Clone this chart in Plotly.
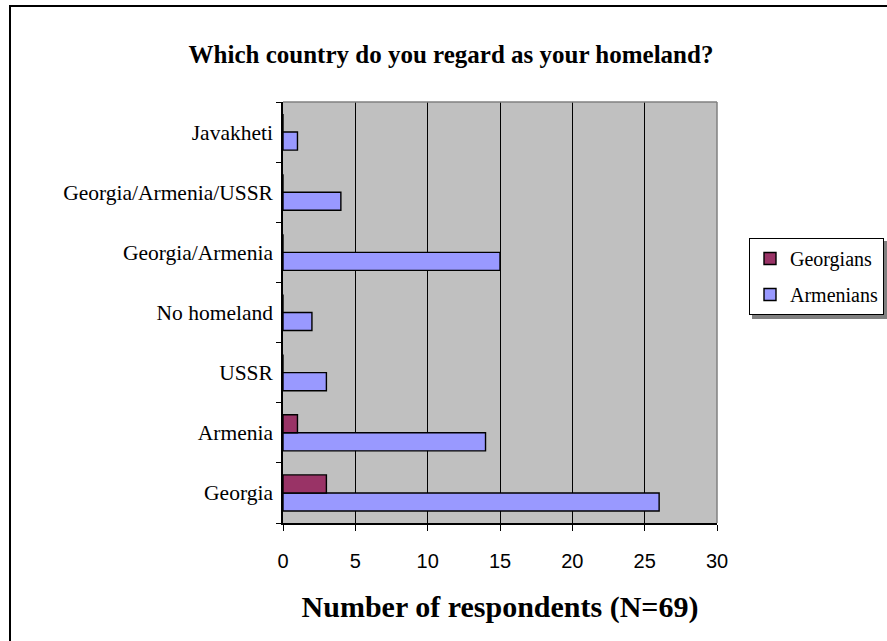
import plotly.graph_objects as go

# Survey answers: which country respondents regard as their homeland
categories = ["Georgia", "Armenia", "USSR", "No homeland",
              "Georgia/Armenia", "Georgia/Armenia/USSR", "Javakheti"]
georgians = [3, 1, 0, 0, 0, 0, 0]
armenians = [26, 14, 3, 2, 15, 4, 1]
x_ticks = [0, 5, 10, 15, 20, 25, 30]

W, H = 887, 641
L, R, T, B = 283, 170, 102, 118
PW, PH = W - L - R, H - T - B


def px_x(px):
    return (px - L) / PW


def px_y(py):
    return (H - B - py) / PH


serif = "Liberation Serif, Times New Roman, serif"
sans = "Liberation Sans, Arial, sans-serif"

fig = go.Figure()
# Armenians first so that the Georgians bar sits above it in each group
fig.add_trace(go.Bar(
    y=categories, x=armenians, name="Armenians", orientation="h",
    marker=dict(color="#9999FF", line=dict(color="black", width=1.4)),
    legendrank=2, legendgroup="arm",
))
fig.add_trace(go.Bar(
    y=categories, x=georgians, name="Georgians", orientation="h",
    marker=dict(color="#993366", line=dict(color="black", width=1.4)),
    legendrank=1, legendgroup="geo",
))

shapes = [
    # outer chart frame
    dict(type="rect", xref="paper", yref="paper",
         x0=px_x(10), x1=px_x(905), y0=px_y(6), y1=px_y(660),
         line=dict(color="black", width=2), fillcolor="rgba(0,0,0,0)", layer="below"),
    # grey top and right edges of the plot area
    dict(type="line", xref="paper", yref="paper", x0=0, x1=1, y0=1, y1=1,
         line=dict(color="#808080", width=1.5), layer="above"),
    dict(type="line", xref="paper", yref="paper", x0=1, x1=1, y0=0, y1=1,
         line=dict(color="#808080", width=1.5), layer="above"),
    # legend shadow
    dict(type="rect", xref="paper", yref="paper",
         x0=px_x(752), x1=px_x(887), y0=px_y(241), y1=px_y(319),
         line=dict(width=0), fillcolor="#808080", layer="below"),
]

fig.update_layout(
    width=W, height=H,
    margin=dict(l=L, r=R, t=T, b=B, autoexpand=False),
    paper_bgcolor="white",
    plot_bgcolor="#C0C0C0",
    barmode="group",
    bargap=0.4,
    bargroupgap=0,
    title=dict(
        text="<b>Which country do you regard as your homeland?</b>",
        font=dict(family=serif, size=25, color="black"),
        x=451 / W, xref="container", xanchor="center",
        y=1 - 54 / H, yref="container", yanchor="middle",
    ),
    legend=dict(
        x=px_x(749), xanchor="left",
        y=px_y(238), yanchor="top",
        bgcolor="white", bordercolor="black", borderwidth=1,
        font=dict(family=serif, size=20, color="black"),
        itemwidth=30, tracegroupgap=7,
    ),
    shapes=shapes,
    showlegend=True,
)

fig.update_xaxes(
    range=[0, 30], tickvals=x_ticks, ticktext=[str(v) for v in x_ticks],
    showgrid=True, gridcolor="black", gridwidth=1,
    showline=True, linecolor="black", linewidth=1.5,
    ticks="outside", ticklen=6, tickcolor="black", tickwidth=1,
    tickfont=dict(family=sans, size=20, color="black"),
    ticklabelstandoff=13,
    zeroline=False,
    automargin=False,
    title=dict(text="<b>Number of respondents (N=69)</b>",
               font=dict(family=serif, size=30, color="black"), standoff=25),
)
fig.update_yaxes(
    categoryorder="array", categoryarray=categories,
    showgrid=False,
    showline=True, linecolor="black", linewidth=1.5,
    ticks="outside", ticklen=5, tickcolor="black", tickwidth=1,
    tickson="boundaries",
    ticklabelstandoff=4,
    automargin=False,
    tickfont=dict(family=serif, size=21.5, color="black"),
)

fig.write_html("out.html")
